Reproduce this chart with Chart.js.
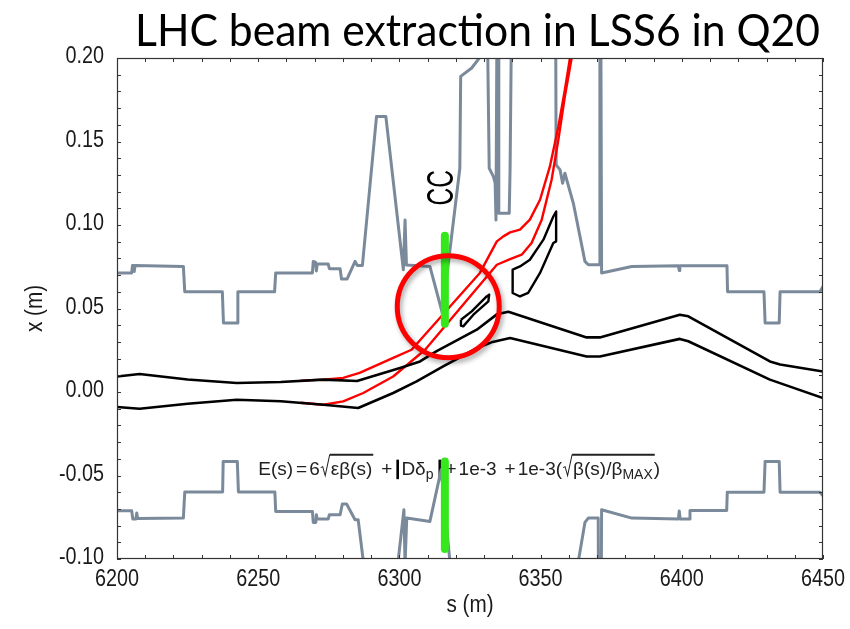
<!DOCTYPE html>
<html>
<head>
<meta charset="utf-8">
<script src="https://cdn.jsdelivr.net/npm/chart.js@4.4.1/dist/chart.umd.min.js"></script>
<style>
  html, body { margin: 0; padding: 0; background: #fff; }
  #wrap { width: 850px; height: 629px; }
</style>
</head>
<body>
<div id="wrap"><canvas id="lhc" width="850" height="629"></canvas></div>
<script>
// LHC extraction in LSS6 (Q20) ‚Äî aperture, beam envelopes, crab cavity

const sRange = [6200, 6450];
const xRange = [-0.10, 0.20];
const sStep = 50;
const xStep = 0.05;

// aperture (grey), [s, x]
const upperAperture = [
  [6200, 0.0713], [6205.2, 0.0713], [6205.5, 0.0758], [6205.9, 0.0758], [6206.1, 0.0722], [6206.4, 0.0758],
  [6223.5, 0.0752], [6224.0, 0.0600], [6237.3, 0.0600], [6237.7, 0.0413], [6242.5, 0.0413], [6242.8, 0.0600],
  [6255.8, 0.0600], [6256.2, 0.0713], [6269.2, 0.0713], [6269.5, 0.0782], [6270.3, 0.0778], [6270.6, 0.0725],
  [6270.9, 0.0766], [6274.8, 0.0766], [6275.2, 0.0738], [6279.0, 0.0738], [6279.5, 0.0677], [6281.5, 0.0677],
  [6284.3, 0.0782], [6285.1, 0.0758], [6286.9, 0.0758], [6291.9, 0.1650], [6295.2, 0.1650], [6301.4, 0.0732],
  [6302.0, 0.1030], [6302.5, 0.0760], [6310.8, 0.0752], [6315.2, 0.0473], [6321.4, 0.1340], [6321.7, 0.1890],
  [6325.6, 0.1940], [6328.3, 0.2000], [6331.0, 0.2400], [6331.8, 0.1340], [6333.3, 0.1290], [6333.9, 0.1250],
  [6334.2, 0.1030], [6334.6, 0.2400], [6335.1, 0.2400], [6335.2, 0.1070], [6338.9, 0.1070], [6339.2, 0.1340],
  [6339.8, 0.2400], [6355.3, 0.2400], [6355.5, 0.1360], [6356.9, 0.1330], [6357.8, 0.1250], [6358.6, 0.1310],
  [6361.6, 0.1130], [6365.7, 0.0782], [6366.9, 0.0762], [6370.8, 0.0762], [6371.0, 0.2400], [6371.3, 0.2400],
  [6371.6, 0.0713], [6382.3, 0.0752], [6398.8, 0.0756], [6399.1, 0.0728], [6399.3, 0.0756], [6416.0, 0.0756],
  [6416.2, 0.0600], [6429.1, 0.0600], [6429.5, 0.0413], [6434.5, 0.0413], [6434.8, 0.0600], [6448.9, 0.0600],
  [6450.7, 0.0650]
];
const lowerAperture = [
  [6200, -0.0711], [6205.2, -0.0711], [6205.6, -0.0760], [6206.7, -0.0760], [6207.0, -0.0725], [6207.3, -0.0758],
  [6223.5, -0.0755], [6224.0, -0.0599], [6237.4, -0.0599], [6237.6, -0.0416], [6242.6, -0.0416], [6243.0, -0.0599],
  [6255.9, -0.0599], [6256.2, -0.0715], [6269.2, -0.0715], [6269.5, -0.0781], [6270.4, -0.0781], [6270.6, -0.0735],
  [6270.9, -0.0760], [6274.8, -0.0760], [6275.2, -0.0735], [6279.0, -0.0735], [6279.8, -0.0671], [6281.3, -0.0671],
  [6284.3, -0.0765], [6285.4, -0.0765], [6291.9, -0.1650], [6295.3, -0.1650], [6301.6, -0.0705], [6302.0, -0.1030],
  [6302.6, -0.0755], [6310.8, -0.0775], [6314.8, -0.0465], [6319.7, -0.1340], [6320.0, -0.2400], [6361.0, -0.2400],
  [6362.0, -0.1150], [6365.7, -0.0781], [6366.9, -0.0755], [6370.4, -0.0755], [6370.8, -0.2400], [6371.2, -0.2400],
  [6371.6, -0.0705], [6382.3, -0.0755], [6398.8, -0.0760], [6399.1, -0.0712], [6399.4, -0.0760], [6402.7, -0.0760],
  [6402.9, -0.0709], [6415.9, -0.0709], [6416.1, -0.0600], [6429.1, -0.0600], [6429.5, -0.0416], [6434.5, -0.0416],
  [6434.8, -0.0600], [6448.9, -0.0600], [6450.7, -0.0635]
];

// circulating beam envelope (black)
const upperEnvelope = [
  [6200, 0.0093], [6208, 0.0108], [6225, 0.0075], [6242.4, 0.0054], [6258, 0.0060], [6273, 0.0074],
  [6285, 0.0066], [6300.2, 0.0144], [6307.3, 0.0183], [6313.2, 0.0245], [6327.4, 0.0373], [6334.5, 0.0465],
  [6338.6, 0.0480], [6366.3, 0.0327], [6371, 0.0327], [6399.3, 0.0463], [6402.3, 0.0453], [6431.2, 0.0183],
  [6434.8, 0.0165], [6450, 0.0123]
];
const lowerEnvelope = [
  [6200, -0.0090], [6208, -0.0100], [6225, -0.0070], [6242.4, -0.0046], [6258, -0.0055], [6273.1, -0.0076],
  [6285.4, -0.0096], [6297.8, -0.0006], [6306.1, 0.0064], [6315.5, 0.0153], [6327.4, 0.0262], [6333, 0.0300],
  [6339.2, 0.0323], [6366.3, 0.0213], [6371, 0.0213], [6399.3, 0.0318], [6402.3, 0.0304], [6431.2, 0.0074],
  [6450, -0.0036]
];

// extracted beam (red)
const upperExtracted = [
  [6265, 0.0068], [6273.1, 0.0074], [6280.1, 0.0084], [6285.9, 0.0114], [6297.8, 0.0204], [6304.3, 0.0253],
  [6328.5, 0.0713], [6334.5, 0.0902], [6336.8, 0.0932], [6339.2, 0.0956], [6342.7, 0.0972], [6346.2, 0.1032],
  [6349.8, 0.1151], [6353.3, 0.1351], [6356.3, 0.1590], [6358.6, 0.1810], [6360.4, 0.2000], [6362, 0.2150]
];
const lowerExtracted = [
  [6265, -0.0064], [6273.1, -0.0076], [6280.1, -0.0056], [6287.2, -0.0006], [6297.8, 0.0093], [6309.1, 0.0253],
  [6334.5, 0.0762], [6339.2, 0.0796], [6343.3, 0.0822], [6346.8, 0.0892], [6350.4, 0.1032], [6353.9, 0.1271],
  [6356.3, 0.1511], [6358.6, 0.1770], [6361.0, 0.2000], [6362.5, 0.2150]
];

// septum / extraction elements (black closed outlines)
const septumSmall = [
  [6321.8, 0.0433], [6325.6, 0.0483], [6330.9, 0.0572], [6331.8, 0.0583], [6331.5, 0.0543], [6326.2, 0.0463],
  [6322.6, 0.0393], [6321.8, 0.0397], [6321.8, 0.0433]
];
const septumLarge = [
  [6340.1, 0.0733], [6340.1, 0.0593], [6342.7, 0.0572], [6345.6, 0.0593], [6349.8, 0.0713], [6354.5, 0.0892],
  [6355.5, 0.0902], [6355.5, 0.1081], [6354.5, 0.1051], [6351.0, 0.0912], [6346.2, 0.0792], [6342.7, 0.0752],
  [6340.1, 0.0733]
];

// crab cavity markers (green) and highlight ring
const ccUpper = [[6316.1, 0.0936], [6316.1, 0.0409]];
const ccLower = [[6316.1, -0.0416], [6316.1, -0.0940]];
const ringCentre = [[6317.3, 0.0511]];

const titleText = 'LHC beam extraction in LSS6 in Q20';
const ccLabel = 'CC';
const sTitle = 's (m)';
const xTitle = 'x (m)';

const GREY = '#7b8a9a';
const RED = '#ff0000';
const GREEN = '#35e81c';
const INK = '#1a1a1a';
const LABEL_FONT = '23px "Liberation Sans", Arimo, Helvetica, sans-serif';

const toPts = arr => arr.map(([x, y]) => ({ x, y }));
const path = (label, data, color, width) => ({
  label, data: toPts(data), showLine: true, borderColor: color, borderWidth: width,
  pointRadius: 0, pointHoverRadius: 0, fill: false, tension: 0, clip: 0,
  borderJoinStyle: 'round', borderCapStyle: 'butt'
});

// narrow text helper (the original uses a condensed face)
function narrowText(ctx, text, x, y, squeeze, align, baseline) {
  ctx.save();
  ctx.translate(x, y);
  ctx.scale(squeeze, 1);
  ctx.textAlign = align;
  ctx.textBaseline = baseline;
  ctx.fillText(text, 0, 0);
  ctx.restore();
}

// frame, inward minor ticks, tick labels and axis titles
const frameTicks = {
  id: 'frameTicks',
  afterDatasetsDraw(chart) {
    const { ctx, chartArea: a, scales: { x, y } } = chart;
    ctx.save();
    ctx.strokeStyle = '#333';
    ctx.lineWidth = 1;
    ctx.beginPath();
    for (let s = sRange[0]; s <= sRange[1] + 0.01; s += 10) {
      const px = Math.round(x.getPixelForValue(s)) + 0.5;
      ctx.moveTo(px, a.bottom); ctx.lineTo(px, a.bottom - 4);
      ctx.moveTo(px, a.top); ctx.lineTo(px, a.top + 4);
    }
    for (let i = 0; i <= 30; i++) {
      const py = Math.round(y.getPixelForValue(xRange[0] + i * 0.01)) + 0.5;
      ctx.moveTo(a.left, py); ctx.lineTo(a.left + 4, py);
      ctx.moveTo(a.right, py); ctx.lineTo(a.right - 4, py);
    }
    ctx.stroke();
    ctx.lineWidth = 1.2;
    ctx.strokeRect(Math.round(a.left) + 0.5, Math.round(a.top) + 0.5,
      Math.round(a.right - a.left) - 1, Math.round(a.bottom - a.top) - 1);

    ctx.fillStyle = INK;
    ctx.font = LABEL_FONT;
    x.ticks.forEach(t => {
      narrowText(ctx, String(Math.round(t.value)), x.getPixelForValue(t.value), a.bottom + 21, 0.86, 'center', 'middle');
    });
    y.ticks.forEach(t => {
      const v = Math.abs(t.value) < 1e-9 ? 0 : t.value;
      narrowText(ctx, v.toFixed(2), a.left - 13, y.getPixelForValue(t.value) - 1, 0.86, 'right', 'middle');
    });

    // axis titles
    narrowText(ctx, sTitle, (a.left + a.right) / 2, a.bottom + 47, 0.9, 'center', 'middle');
    ctx.translate(36, (a.top + a.bottom) / 2);
    ctx.rotate(-Math.PI / 2);
    narrowText(ctx, xTitle, 0, 0, 0.9, 'center', 'middle');
    ctx.restore();
  }
};

// soft shadow under the red ring
const ringShadow = {
  id: 'ringShadow',
  beforeDatasetDraw(chart, args) {
    if (chart.data.datasets[args.index].label !== 'ring') return;
    const ctx = chart.ctx;
    ctx.save();
    ctx.shadowColor = 'rgba(0,0,0,0.35)';
    ctx.shadowBlur = 5;
    ctx.shadowOffsetX = 2;
    ctx.shadowOffsetY = 3;
  },
  afterDatasetDraw(chart, args) {
    if (chart.data.datasets[args.index].label !== 'ring') return;
    chart.ctx.restore();
  }
};

// title, CC label and envelope formula
const notes = {
  id: 'notes',
  beforeDatasetsDraw(chart) {
    const { ctx, scales: { x, y } } = chart;
    ctx.save();

    // CC, rotated
    ctx.fillStyle = '#000';
    ctx.font = '36px "Liberation Sans", Arimo, sans-serif';
    ctx.translate(x.getPixelForValue(6315.6), y.getPixelForValue(0.1223));
    ctx.rotate(-Math.PI / 2);
    narrowText(ctx, ccLabel, 0, 0, 0.68, 'center', 'middle');
    ctx.restore();

    // E(s) formula
    drawFormula(ctx, x.getPixelForValue(6250), x.getPixelForValue(6392.3), y.getPixelForValue(-0.0495));
  },
  afterDraw(chart) {
    const ctx = chart.ctx;
    ctx.save();
    ctx.fillStyle = '#000';
    ctx.font = '45px Lato, "Open Sans", sans-serif';
    ctx.textBaseline = 'alphabetic';
    const w = ctx.measureText(titleText).width;
    const left = 135, right = 820;
    ctx.translate(left, 46);
    ctx.scale((right - left) / w, 1);
    ctx.fillText(titleText, 0, 0);
    ctx.restore();
  }
};

function drawFormula(ctx, x0, x1, base) {
  const size = 19;
  const main = size + 'px "Liberation Sans", sans-serif';
  const sub = Math.round(size * 0.72) + 'px "Liberation Sans", sans-serif';
  const parts = [
    ['t', 'E(s)'], ['g', 3], ['t', '='], ['g', 2], ['t', '6'], ['r', 0], ['t', '\u03b5\u03b2(s)'], ['o', 0],
    ['g', 9], ['t', '+'], ['g', 4], ['b', 0], ['g', 2], ['t', 'D\u03b4'], ['s', 'p'], ['g', 4], ['b', 0],
    ['g', 4], ['t', '+'], ['g', 2], ['t', '1e-3'], ['g', 8], ['t', '+'], ['g', 2], ['t', '1e-3('],
    ['r', 0], ['t', '\u03b2(s)/\u03b2'], ['s', 'MAX'], ['o', 0], ['t', ')']
  ];
  const widthOf = p => {
    if (p[0] === 't') { ctx.font = main; return ctx.measureText(p[1]).width; }
    if (p[0] === 's') { ctx.font = sub; return ctx.measureText(p[1]).width + 1; }
    if (p[0] === 'g') return p[1];
    if (p[0] === 'r') return 11;
    if (p[0] === 'b') return 3;
    return 0;
  };
  const total = parts.reduce((a, p) => a + widthOf(p), 0);
  const k = (x1 - x0) / total;
  ctx.save();
  ctx.translate(x0, base);
  ctx.scale(k, 1);
  ctx.fillStyle = '#222';
  ctx.strokeStyle = '#222';
  let cx = 0, rootFrom = null;
  const top = -size * 1.05;
  parts.forEach(p => {
    const w = widthOf(p);
    if (p[0] === 't') { ctx.font = main; ctx.fillText(p[1], cx, 0); }
    if (p[0] === 's') { ctx.font = sub; ctx.fillText(p[1], cx, 4); }
    if (p[0] === 'r') {
      ctx.lineWidth = 1;
      ctx.beginPath();
      ctx.moveTo(cx + 1, -7); ctx.lineTo(cx + 3, -8); ctx.lineTo(cx + 5.5, 1); ctx.lineTo(cx + 10, top);
      ctx.stroke();
      rootFrom = cx + 10;
    }
    if (p[0] === 'o') {
      ctx.lineWidth = 2;
      ctx.beginPath(); ctx.moveTo(rootFrom, top); ctx.lineTo(cx + 1, top); ctx.stroke();
    }
    if (p[0] === 'b') { ctx.fillStyle = '#000'; ctx.fillRect(cx, -15, 2.6, 19.5); ctx.fillStyle = '#222'; }
    cx += w;
  });
  ctx.restore();
}

new Chart(document.getElementById('lhc').getContext('2d'), {
  type: 'scatter',
  data: {
    datasets: [
      { label: 'ring', data: toPts(ringCentre), pointStyle: 'circle', pointRadius: 51, pointHoverRadius: 51,
        pointBorderWidth: 5, pointBorderColor: RED, pointBackgroundColor: 'rgba(0,0,0,0)', showLine: false, clip: false },
      path('cc upper', ccUpper, GREEN, 8),
      path('cc lower', ccLower, GREEN, 8),
      path('septum small', septumSmall, '#000', 2.4),
      path('septum large', septumLarge, '#000', 2.4),
      path('envelope upper', upperEnvelope, '#000', 2.6),
      path('envelope lower', lowerEnvelope, '#000', 2.6),
      path('extracted upper', upperExtracted, RED, 2.4),
      path('extracted lower', lowerExtracted, RED, 2.4),
      path('aperture upper', upperAperture, GREY, 3),
      path('aperture lower', lowerAperture, GREY, 3)
    ]
  },
  options: {
    responsive: false,
    animation: false,
    devicePixelRatio: 1,
    // the big ring point would otherwise push the plot frame in from the right
    layout: { autoPadding: false, padding: { top: 58, right: 27, bottom: 0, left: 0 } },
    plugins: { legend: { display: false }, tooltip: { enabled: false } },
    scales: {
      x: {
        type: 'linear', min: sRange[0], max: sRange[1],
        afterFit: s => { s.height = 70; },
        grid: { display: false, drawTicks: false },
        border: { display: false },
        ticks: { display: false, stepSize: sStep },
        title: { display: false }
      },
      y: {
        type: 'linear', min: xRange[0], max: xRange[1],
        afterFit: s => { s.width = 117; },
        grid: { display: false, drawTicks: false },
        border: { display: false },
        ticks: { display: false, stepSize: xStep },
        title: { display: false }
      }
    }
  },
  plugins: [notes, ringShadow, frameTicks]
});
</script>
</body>
</html>
